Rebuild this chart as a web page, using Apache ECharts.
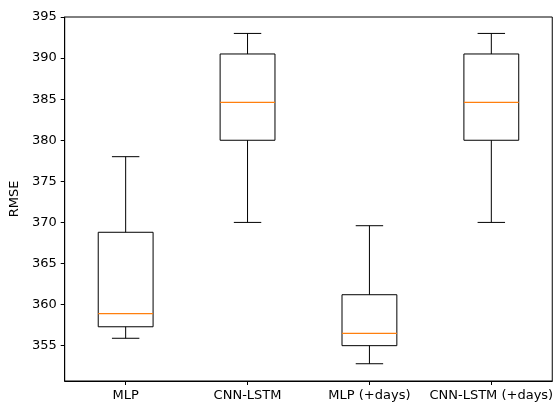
<!DOCTYPE html>
<html>
<head>
<meta charset="utf-8">
<script src="https://cdn.jsdelivr.net/npm/echarts@6/dist/echarts.min.js"></script>
<style>html,body{margin:0;padding:0;background:#fff}#c{width:556px;height:403px}</style>
</head>
<body>
<div id="c"></div>
<script>
var categories = ['MLP', 'CNN-LSTM', 'MLP (+days)', 'CNN-LSTM (+days)'];
// [lower whisker, Q1, median, Q3, upper whisker]
var lowWhisker = [355.9, 370.0, 352.8, 370.0];
var q1 = [357.3, 380.0, 355.0, 380.0];
var median = [358.9, 384.6, 356.5, 384.6];
var q3 = [368.8, 390.5, 361.2, 390.5];
var highWhisker = [378.0, 393.0, 369.6, 393.0];
var yTicks = [355, 360, 365, 370, 375, 380, 385, 390, 395];

var data = categories.map(function (c, i) {
  return [i, lowWhisker[i], q1[i], median[i], q3[i], highWhisker[i]];
});

var chart = echarts.init(document.getElementById('c'), null, {renderer: 'canvas'});
var font = 'DejaVu Sans';
chart.setOption({
  animation: false,
  backgroundColor: '#fff',
  grid: {left: 64, right: 3, top: 17, bottom: 22, show: true, borderColor: '#000', borderWidth: 1, backgroundColor: 'transparent'},
  xAxis: {
    type: 'category',
    data: categories,
    boundaryGap: true,
    axisLine: {show: true, lineStyle: {color: '#000', width: 1}},
    axisTick: {show: true, alignWithLabel: true, length: 4, lineStyle: {color: '#000'}},
    axisLabel: {color: '#000', fontFamily: font, fontSize: 13, margin: 8, interval: 0, hideOverlap: false},
    splitLine: {show: false}
  },
  yAxis: {
    type: 'value',
    min: 350.7,
    max: 395,
    name: 'RMSE',
    nameLocation: 'middle',
    nameGap: 42,
    nameTextStyle: {color: '#000', fontFamily: font, fontSize: 13},
    axisLine: {show: true, lineStyle: {color: '#000', width: 1}},
    axisTick: {show: true, length: 4, lineStyle: {color: '#000'}, customValues: yTicks},
    axisLabel: {color: '#000', fontFamily: font, fontSize: 13, margin: 8, customValues: yTicks},
    splitLine: {show: false}
  },
  series: [{
    type: 'custom',
    data: data,
    encode: {x: 0, y: [1, 2, 3, 4, 5]},
    renderItem: function (params, api) {
      var idx = api.value(0);
      var band = api.size([1, 0])[0];
      var bw = band * 0.45;
      var cw = bw / 2;
      var pLo = api.coord([idx, api.value(1)]);
      var pQ1 = api.coord([idx, api.value(2)]);
      var pMed = api.coord([idx, api.value(3)]);
      var pQ3 = api.coord([idx, api.value(4)]);
      var pHi = api.coord([idx, api.value(5)]);
      var x = pQ1[0];
      var ls = {stroke: '#000', lineWidth: 1, fill: null};
      return {
        type: 'group',
        children: [
          {type: 'line', shape: {x1: x, y1: pLo[1], x2: x, y2: pQ1[1]}, style: ls},
          {type: 'line', shape: {x1: x, y1: pQ3[1], x2: x, y2: pHi[1]}, style: ls},
          {type: 'line', shape: {x1: x - cw / 2, y1: pLo[1], x2: x + cw / 2, y2: pLo[1]}, style: ls},
          {type: 'line', shape: {x1: x - cw / 2, y1: pHi[1], x2: x + cw / 2, y2: pHi[1]}, style: ls},
          {type: 'rect', shape: {x: x - bw / 2, y: pQ3[1], width: bw, height: pQ1[1] - pQ3[1]}, style: {stroke: '#000', lineWidth: 1, fill: 'none'}},
          {type: 'line', shape: {x1: x - bw / 2, y1: pMed[1], x2: x + bw / 2, y2: pMed[1]}, style: {stroke: '#ff7f0e', lineWidth: 1.2}}
        ]
      };
    }
  }]
});
</script>
</body>
</html>
